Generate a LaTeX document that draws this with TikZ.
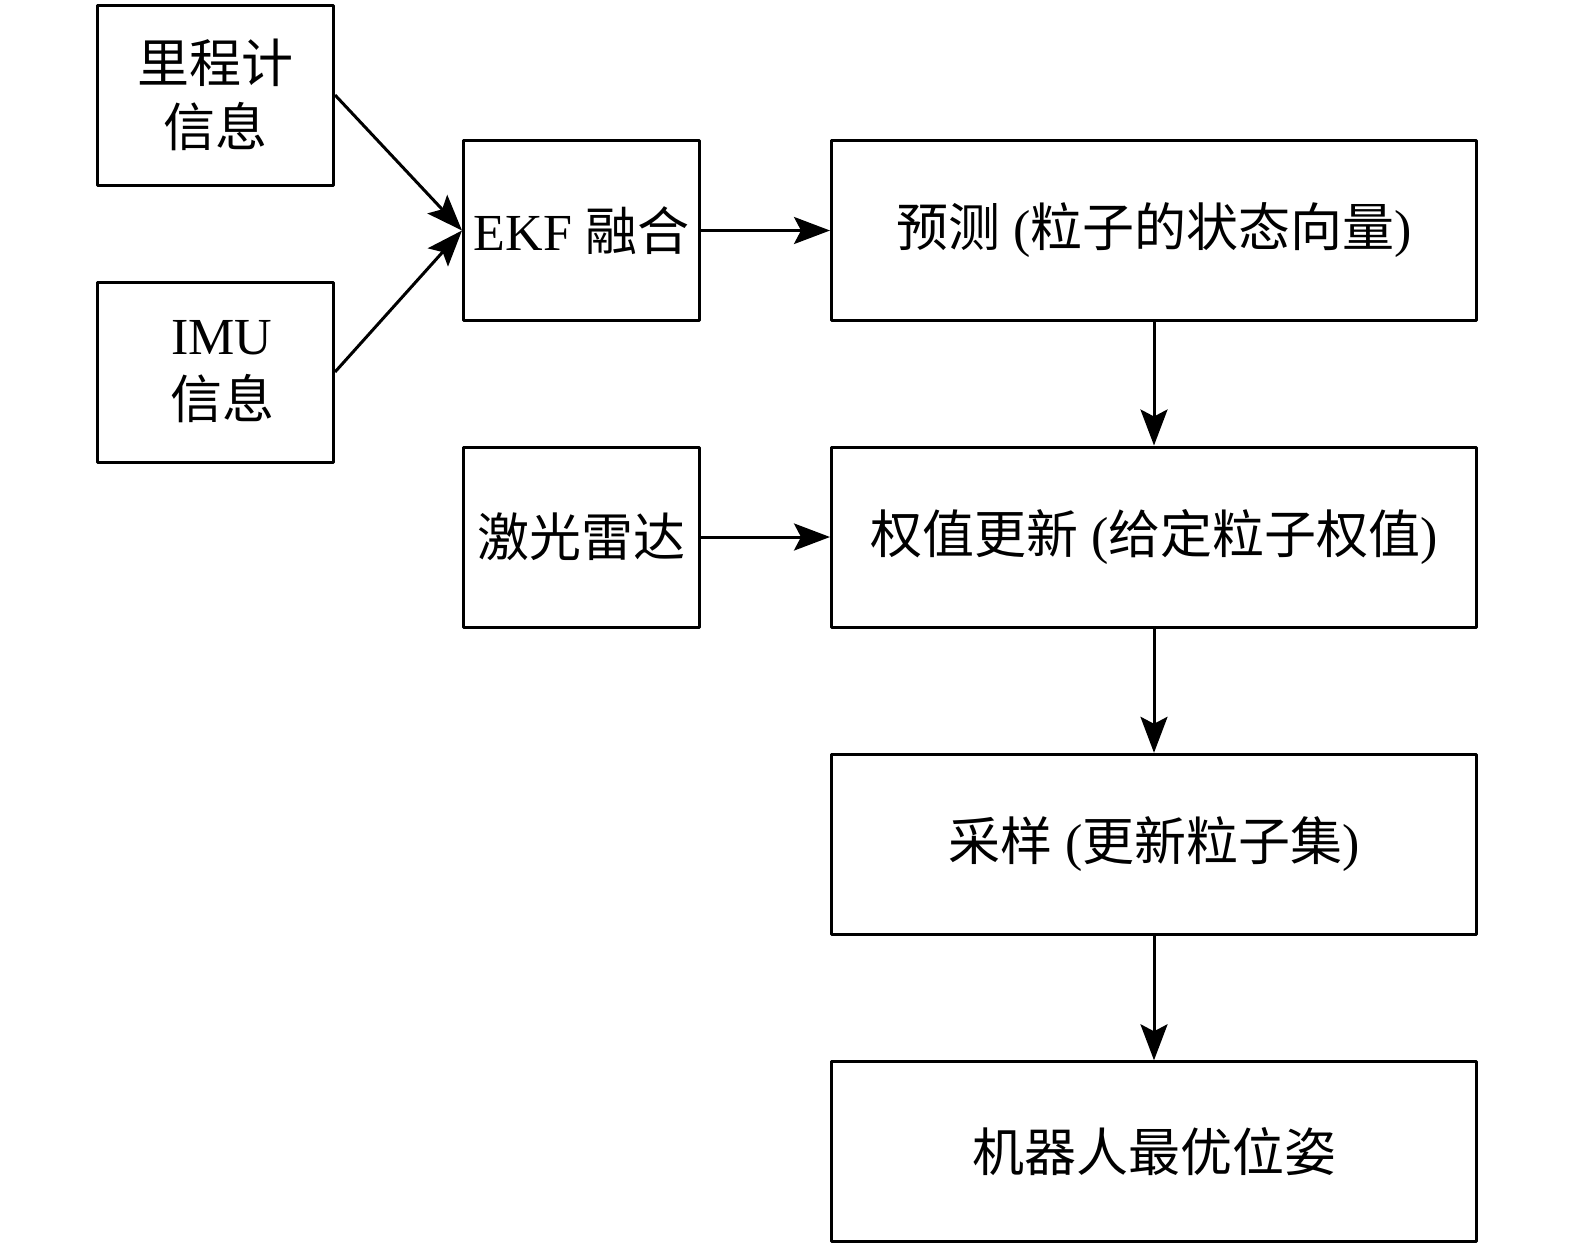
\documentclass[tikz,border=0pt]{standalone}
\usepackage{fontspec}
\setmainfont{Liberation Serif}
\newfontfamily\cjk{Noto Sans CJK SC}
\usetikzlibrary{arrows.meta}
\begin{document}
\begin{tikzpicture}[x=1pt,y=-1pt,
  box/.style={draw,line width=3pt,line join=round,rectangle,inner sep=0pt,
    minimum height=180pt,align=center,font=\fontsize{52}{60}\selectfont},
  smallbox/.style={box,minimum width=236pt},
  bigbox/.style={box,minimum width=645pt},
  arr/.style={line width=3pt,-{Stealth[length=36pt,width=27pt,inset=7pt]}}]
\useasboundingbox (0,0) rectangle (1575,1248);
\node[smallbox] (odo) at (215.5,95) {{\cjk 里程计}\\[4pt]{\cjk 信息}};
\node[smallbox] (imu) at (215.5,372) {\ IMU\\[4pt]\ {\cjk 信息}};
\node[smallbox] (ekf) at (581.5,230.5) {EKF {\cjk 融合}};
\node[smallbox] (lidar) at (581.5,537) {{\cjk 激光雷达}};
\node[bigbox] (pred) at (1154,230.5) {{\cjk 预测} ({\cjk 粒子的状态向量})};
\node[bigbox] (wupd) at (1154,537) {{\cjk 权值更新} ({\cjk 给定粒子权值})};
\node[bigbox] (samp) at (1154,844.3) {{\cjk 采样} ({\cjk 更新粒子集})};
\node[bigbox] (best) at (1154,1151.8) {{\cjk 机器人最优位姿}};
\draw[arr] (odo.east) -- (ekf.west);
\draw[arr] (imu.east) -- (ekf.west);
\draw[arr] (ekf.east) -- (pred.west);
\draw[arr] (lidar.east) -- (wupd.west);
\draw[arr] (pred.south) -- (wupd.north);
\draw[arr] (wupd.south) -- (samp.north);
\draw[arr] (samp.south) -- (best.north);
\end{tikzpicture}
\end{document}
